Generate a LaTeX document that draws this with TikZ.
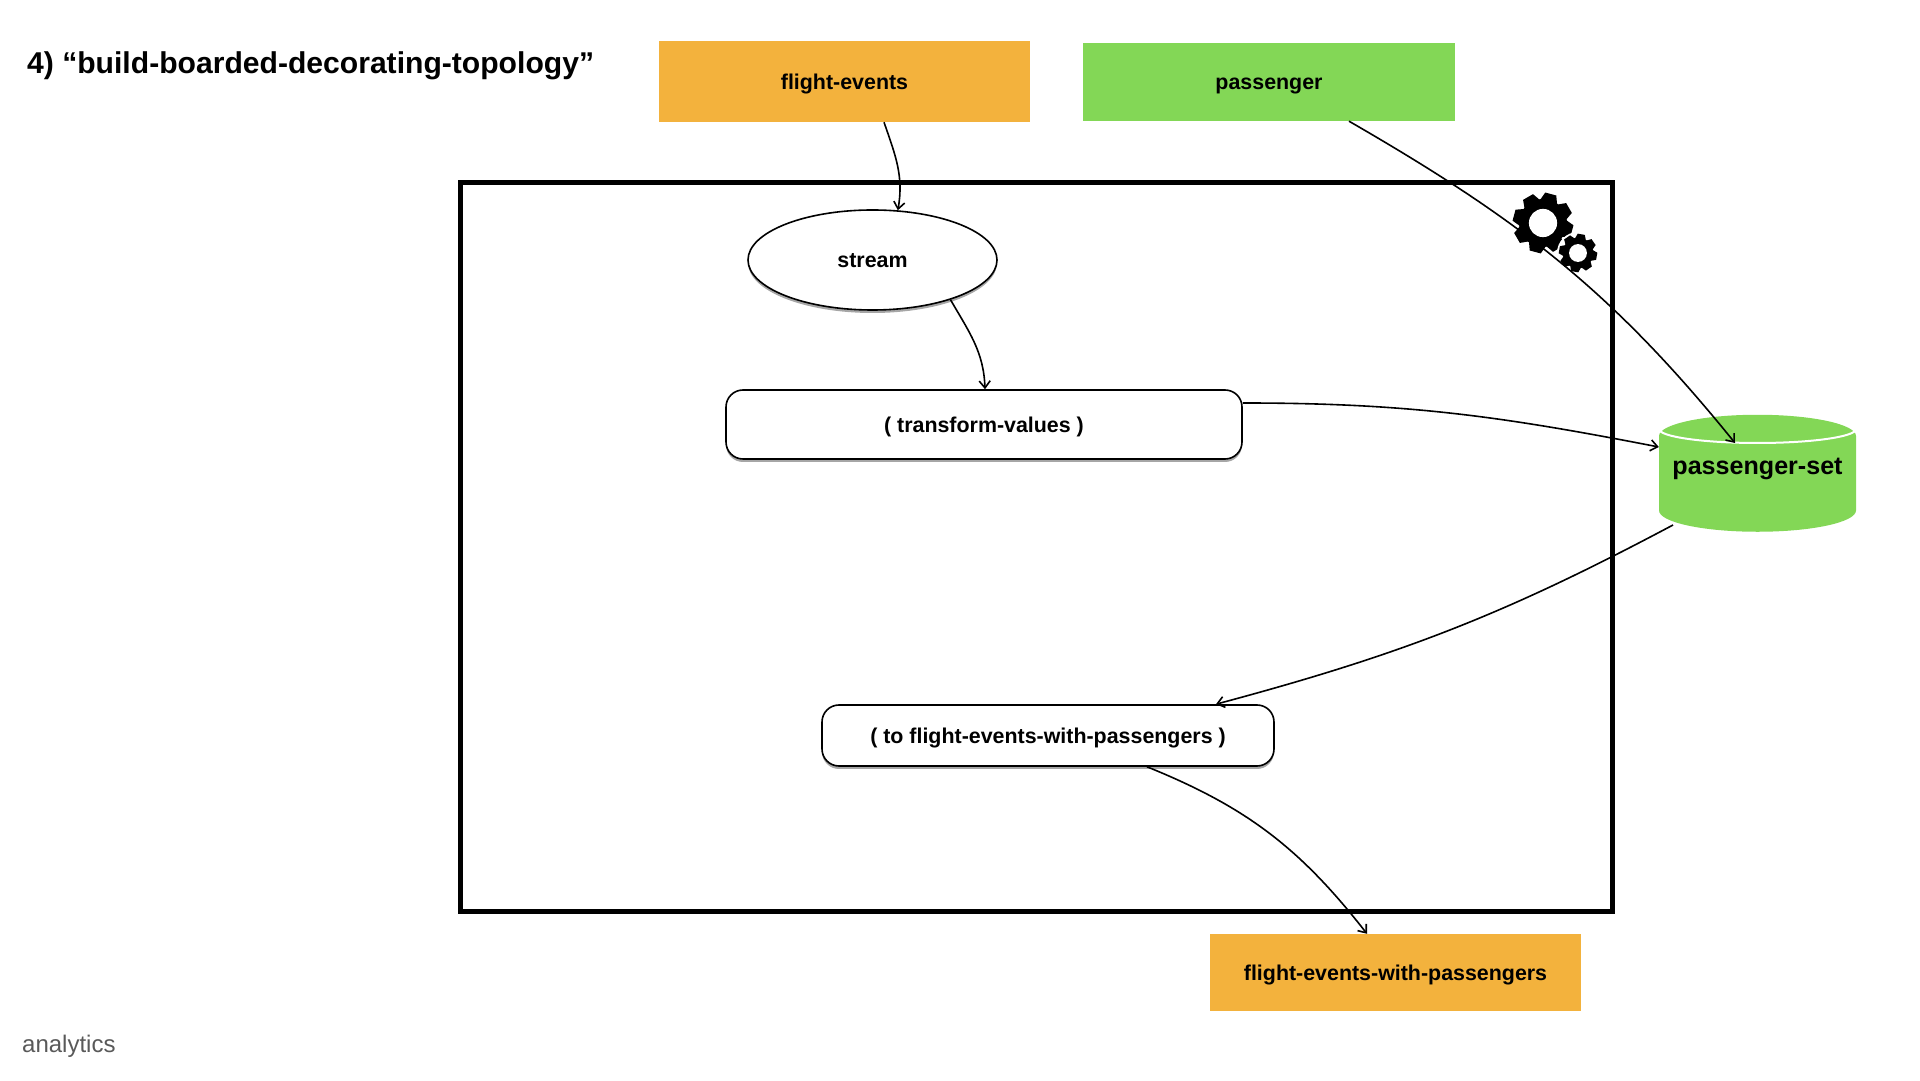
\documentclass[tikz,border=0pt]{standalone}
\usepackage{fontspec}
\setmainfont{Liberation Sans}
\usetikzlibrary{arrows.meta,shapes.geometric,shadows}
\definecolor{topicorange}{HTML}{F3B23D}
\definecolor{storegreen}{HTML}{83D756}
\tikzset{
	labeltext/.style={font=\bfseries\fontsize{21.4}{26}\selectfont, text height=18pt, text depth=2pt},
	topicbox/.style={rectangle, inner sep=0pt, labeltext},
	opbox/.style={rectangle, rounded corners=17pt, draw=black, line width=1.6pt, fill=white, inner sep=0pt, labeltext,
		drop shadow={shadow xshift=0pt, shadow yshift=-3pt, opacity=.35, fill=black}},
	flow/.style={line width=1.6pt, -{Straight Barb[length=7pt,width=11pt]}},
}
\newcommand{\gearicon}[3]{%
	\foreach \a in {0,45,...,315}
		\fill[shift={(#1)},rotate=\a+#3] (-.3*#2,.7*#2) -- (-.19*#2,#2) -- (.19*#2,#2) -- (.3*#2,.7*#2) -- cycle;
	\fill (#1) circle[radius=.8*#2];
	\fill[white] (#1) circle[radius=.47*#2];
}
\begin{document}
\begin{tikzpicture}[x=1pt,y=1pt]%
	\useasboundingbox (0,0) rectangle (1920,1080);
	% the topology frame and its gears
	\draw[line width=5pt] (460,897) rectangle (1612.5,168.5);
	\gearicon{1543,857}{30}{-15}
	\fill[white] (1578,827) circle[radius=21];
	\gearicon{1578,827}{19}{-10}
	% title and footer
	\node[anchor=west, inner sep=0pt, font=\bfseries\fontsize{30.1}{36}\selectfont] (ntitle) at (27,1014.5) {4) “build-boarded-decorating-topology”};
	\node[anchor=west, inner sep=0pt, text=black!65, font=\fontsize{24}{28}\selectfont] (nfooter) at (22,34) {analytics};
	% topics
	\node[topicbox, fill=topicorange, minimum width=371pt, minimum height=81pt] (nflight) at (844.5,998.5) {flight-events};
	\node[topicbox, fill=storegreen, minimum width=372pt, minimum height=78pt] (npassenger) at (1269,998) {passenger};
	\node[topicbox, fill=topicorange, minimum width=371pt, minimum height=77pt] (noutput) at (1395.5,107.5) {flight-events-with-passengers};
	% operations
	\node[ellipse, draw=black, line width=1.6pt, fill=white, inner sep=0pt, labeltext, minimum width=249pt, minimum height=100pt,
		drop shadow={shadow xshift=0pt, shadow yshift=-3pt, opacity=.35, fill=black}] (nstream) at (872.5,820) {stream};
	\node[opbox, minimum width=516pt, minimum height=69pt] (ntransform) at (984,655.5) {( transform-values )};
	\node[opbox, minimum width=452pt, minimum height=61pt] (nto) at (1048,344.5) {( to flight-events-with-passengers )};
	% state store
	\node[cylinder, shape border rotate=90, aspect=.25, fill=storegreen, inner sep=0pt, minimum width=197pt, minimum height=117pt,
		font=\bfseries\fontsize{25.1}{30}\selectfont] (nset) at (1757.5,596) {\raisebox{22pt}[26pt][0pt]{passenger-set}};
	\draw[white, line width=2pt] ([shift={(-98.5pt,55pt)}]nset.center) arc[start angle=180, end angle=360, x radius=98.5pt, y radius=14pt];
	% flows
	\draw[flow] ([xshift=39.5pt]nflight.south) to[out=-71,in=80] (nstream.63.5);
	\draw[flow] (nstream.-27.5) to[out=-60,in=92] ([xshift=1pt]ntransform.north);
	\draw[flow] ([yshift=21.5pt]ntransform.east) to[out=0,in=169] ([yshift=37pt]nset.west);
	\draw[flow] ([xshift=80pt]npassenger.south) to[out=-30,in=129] ([shift={(-22.5pt,41pt)}]nset.center);
	\draw[flow] ([shift={(-84.5pt,-41pt)}]nset.center) to[out=-152,in=15] ([xshift=168pt]nto.north);
	\draw[flow] ([xshift=99pt]nto.south) to[out=-22,in=128] ([xshift=-28.5pt]noutput.north);
\end{tikzpicture}
\end{document}
